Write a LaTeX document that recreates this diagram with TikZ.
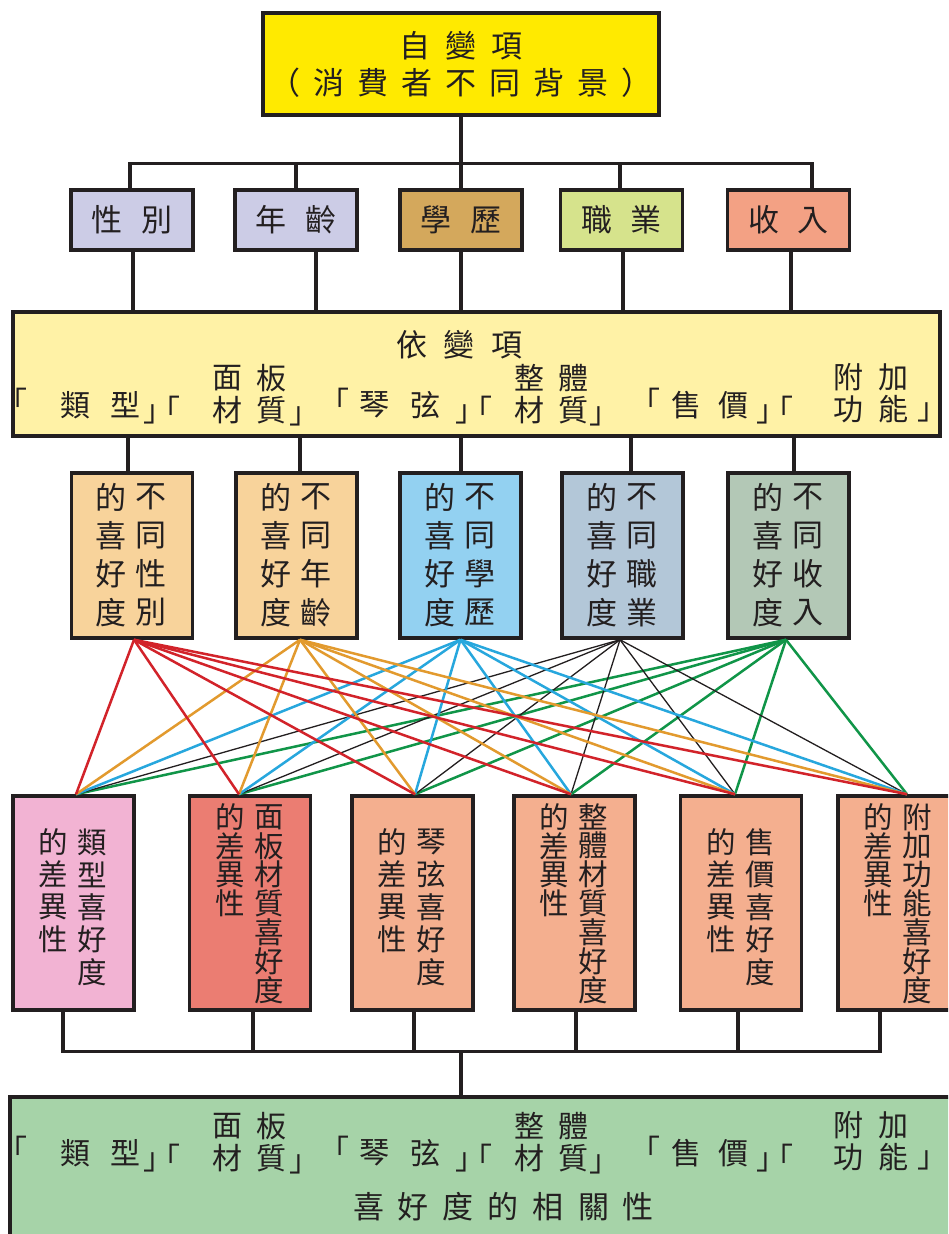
\documentclass[tikz,border=0pt]{standalone}
\usepackage{fontspec}
\newfontfamily\cjk{Noto Sans CJK TC}
\usetikzlibrary{calc}
\makeatletter
\def\pitched#1#2{\edef\ptmp{#2}\def\pwid{#1}\expandafter\pit@loop\ptmp\pit@end}
\def\pit@loop#1{\ifx#1\pit@end\else\makebox[\pwid]{#1}\expandafter\pit@loop\fi}
\def\pit@end{\pit@end}
\makeatother
\newcommand\clsopn{」\kern-23pt「}
\newcommand\bracketrow[2]{%
  \foreach \xx/\yy/\cc [count=\i] in {13/401/「, 75/405/類, 125/405/型, 162/410/\clsopn,
      227/378/面, 271/378/板, 227/410/材, 271/410/質, 304/416/」,
      334/401/「, 374/405/琴, 425/405/弦, 474/410/\clsopn,
      529/378/整, 573/378/體, 529/410/材, 573/410/質, 604/416/」,
      645/401/「, 686/405/售, 733/405/價, 775/410/\clsopn,
      848/377/附, 893/377/加, 848/409/功, 893/409/能, 932/412/」}
    \node[chdep] (#1\i) at (\xx,\yy+#2) {\cc};}
\definecolor{ink}{HTML}{231F20}
\definecolor{cTop}{HTML}{FFEA00}
\definecolor{cLav}{HTML}{CCCCE6}
\definecolor{cTan}{HTML}{D4A85C}
\definecolor{cLime}{HTML}{D6E38C}
\definecolor{cSalm}{HTML}{F3A184}
\definecolor{cDep}{HTML}{FFF2A6}
\definecolor{cPeach}{HTML}{F8D39B}
\definecolor{cSky}{HTML}{93D1F1}
\definecolor{cSteel}{HTML}{B3C7D8}
\definecolor{cSage}{HTML}{B3C8B6}
\definecolor{cPink}{HTML}{F2B3D3}
\definecolor{cRose}{HTML}{EB7D72}
\definecolor{cSalmon}{HTML}{F4AF8F}
\definecolor{cGreenBox}{HTML}{A6D3A8}
\definecolor{cRed}{HTML}{D2232A}
\definecolor{cOrange}{HTML}{E29A2E}
\definecolor{cBlue}{HTML}{27A7DD}
\definecolor{cGreen}{HTML}{109548}
\begin{document}
\begin{tikzpicture}[x=1pt,y=-1pt,
  box/.style={draw=ink, line width=3.5pt, inner sep=0pt, text=ink, align=center},
  tree/.style={draw=ink, line width=3.2pt},
  chbig/.style={inner sep=0pt, text=ink, font=\cjk\fontsize{31}{37}\selectfont},
  chmid/.style={inner sep=0pt, text=ink, font=\cjk\fontsize{31}{31}\selectfont},
  chdep/.style={inner sep=0pt, text=ink, font=\cjk\fontsize{30}{30}\selectfont},
  chbot/.style={inner sep=0pt, text=ink, font=\cjk\fontsize{29.5}{29.5}\selectfont},
  fan/.style={line width=2.5pt}]
\useasboundingbox (0,0) rectangle (948,1234);
\clip (0,0) rectangle (948,1234);
\fill[white] (0,0) rectangle (948,1234);

% top box
\node[box, fill=cTop, minimum width=382pt, minimum height=102pt,
  font=\cjk\fontsize{31}{37}\selectfont] (top) at (461,64)
  {\pitched{46pt}{自變項}\\\pitched{44pt}{（消費者不同背景）}};

% five background boxes
\foreach \bn/\bx/\bc/\bt in {t1/132/cLav/性別, t2/296/cLav/年齡, t3/461/cTan/學歷, t4/621.5/cLime/職業, t5/788.5/cSalm/收入}
  \node[box, fill=\bc, minimum width=122pt, minimum height=60pt,
    font=\cjk\fontsize{31}{31}\selectfont] (\bn) at (\bx,220) {\pitched{50pt}{\bt}};

% dependent-variable box
\node[box, fill=cDep, minimum width=927pt, minimum height=124pt] (dep) at (476.5,374) {};
\node[chbig] (depT) at (459.5,345) {\pitched{48pt}{依變項}};
\bracketrow{d}{0}

% middle boxes
\foreach \bn/\bx/\bc/\ba/\bb in {m1/132/cPeach/性/別, m2/296.5/cPeach/年/齡, m3/460.5/cSky/學/歷, m4/622.5/cSteel/職/業, m5/788.5/cSage/收/入}{
  \node[box, fill=\bc, minimum width=121pt, minimum height=165pt] (\bn) at (\bx,555.5) {};
  \foreach \cc [count=\i] in {的,喜,好,度}
    \node[chmid] (\bn l\i) at (\bx-21, {497+38.5*(\i-1)}) {\cc};
  \foreach \cc [count=\i] in {不,同,\ba,\bb}
    \node[chmid] (\bn r\i) at (\bx+19, {497+38.5*(\i-1)}) {\cc};
}

% bottom boxes
\foreach \bn/\bx/\bc/\by/\bp/\bl in {b1/73.5/cPink/842/32.5/{類,型,喜,好,度},
    b2/250/cRose/817/28.8/{面,板,材,質,喜,好,度},
    b3/412.5/cSalmon/842/32.5/{琴,弦,喜,好,度},
    b4/574.5/cSalmon/817/28.8/{整,體,材,質,喜,好,度},
    b5/741/cSalmon/842/32.5/{售,價,喜,好,度},
    b6/898.5/cSalmon/817/28.8/{附,加,功,能,喜,好,度}}{
  \node[box, fill=\bc, minimum width=121pt, minimum height=214pt] (\bn) at (\bx,903) {};
  \foreach \cc [count=\i] in {的,差,異,性}
    \node[chbot] (\bn l\i) at (\bx-20, {\by+\bp*(\i-1)}) {\cc};
  \foreach \cc [count=\i] in \bl
    \node[chbot] (\bn r\i) at (\bx+19, {\by+\bp*(\i-1)}) {\cc};
}

% result box
\node[box, fill=cGreenBox, minimum width=987pt, minimum height=163pt] (res) at (503.5,1178.5) {};
\bracketrow{g}{748}
\node[chbig] (resT) at (503.5,1207) {\pitched{45pt}{喜好度的相關性}};

% tree connectors
\coordinate (bar1) at ([yshift=-47pt]top.south);
\draw[tree] (top.south) -- (bar1);
\draw[tree] (bar1) -| ([xshift=-2pt]t1.north);
\draw[tree] (bar1) -| (t2.north);
\draw[tree] (bar1) -- (t3.north);
\draw[tree] (bar1) -| ([xshift=-1.5pt]t4.north);
\draw[tree] (bar1) -| ([xshift=23.5pt]t5.north);
\foreach \n/\dx in {t1/1, t2/20, t3/0, t4/1.5, t5/2.5}
  \draw[tree] ([xshift=\dx pt]\n.south) -- ([xshift=\dx pt]\n.south |- dep.north);
\foreach \n/\dx in {m1/-4, m2/3.5, m3/0.5, m4/8.5, m5/5.5}
  \draw[tree] ([xshift=\dx pt]\n.north |- dep.south) -- ([xshift=\dx pt]\n.north);
\coordinate (bar2) at (res.north -| top.south);
\coordinate (bar2a) at ([yshift=44pt]bar2);
\foreach \n/\dx in {b1/-10.5, b2/3, b3/1.5, b4/1.5, b5/-3, b6/-18.5}
  \draw[tree] ([xshift=\dx pt]\n.south) |- (bar2a);
\draw[tree] (bar2a) -- (bar2);

% fan connectors
\coordinate (s1) at ([xshift=2pt]m1.south);
\coordinate (s2) at ([xshift=3.5pt]m2.south);
\coordinate (s3) at (m3.south);
\coordinate (s4) at ([xshift=-2.5pt]m4.south);
\coordinate (s5) at ([xshift=-2.5pt]m5.south);
\coordinate (e1) at ([xshift=2.5pt]b1.north);
\coordinate (e2) at ([xshift=-11pt]b2.north);
\coordinate (e3) at ([xshift=2.5pt]b3.north);
\coordinate (e4) at ([xshift=-3.5pt]b4.north);
\coordinate (e5) at ([xshift=-6pt]b5.north);
\coordinate (e6) at ([xshift=8.5pt]b6.north);
\foreach \tg in {1,...,6}{
  \draw[fan, cGreen] (s5) -- (e\tg);
  \draw[line width=1.3pt, ink] (s4) -- (e\tg);
  \draw[fan, cBlue] (s3) -- (e\tg);
  \draw[fan, cOrange] (s2) -- (e\tg);
  \draw[fan, cRed] (s1) -- (e\tg);
}
\end{tikzpicture}
\end{document}
